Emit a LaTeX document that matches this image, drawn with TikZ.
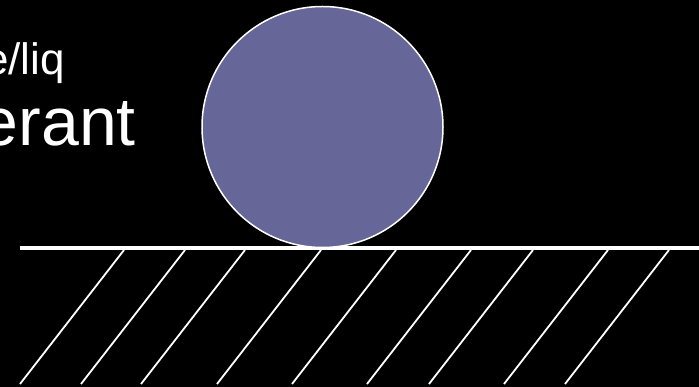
\documentclass[tikz,border=0pt]{standalone}
\usepackage{fontspec}
\setmainfont{Liberation Sans}
\definecolor{ballcol}{HTML}{666699}
\tikzset{
  hatch/.style={white, line width=1.8pt},
  ground/.style={white, line width=4.5pt},
  ball/.style={circle, draw=white, line width=1.5pt, fill=ballcol, minimum size=241pt, inner sep=0pt},
  slidetext/.style={anchor=base east, inner sep=0pt, text=white}
}
\begin{document}
\begin{tikzpicture}[x=1pt,y=-1pt]
\fill[black] (0,0) rectangle (699,387);
\useasboundingbox (0,0) rectangle (699,387);
\node[slidetext, font=\fontsize{44}{44}\selectfont] (small) at (65,75) {e/liq};
\node[slidetext, font=\fontsize{68}{68}\selectfont] (big) at (136,146) {erant};
\coordinate (gl) at (19.5,248);
\coordinate (gr) at (699,248);
\draw[ground] (gl) -- (gr);
\foreach \b in {20,81,141,217,292,367,429,504,565} {
  \draw[hatch] (\b,384) -- ++(104,-134);
}
\node[ball] (ball) at (322.5,127) {};
\end{tikzpicture}
\end{document}
